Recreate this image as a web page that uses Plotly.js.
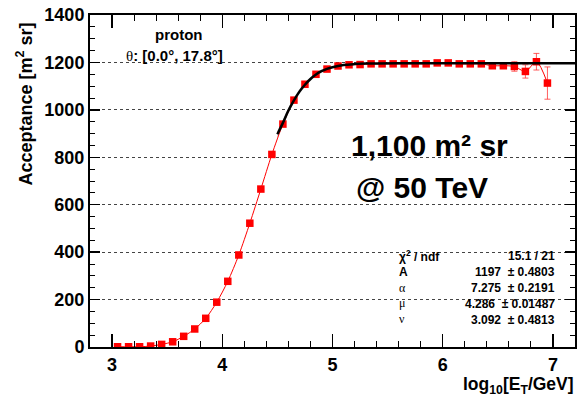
<!DOCTYPE html>
<html>
<head>
<meta charset="utf-8">
<script src="https://cdn.plot.ly/plotly-3.0.1.min.js"></script>
<style>
html,body{margin:0;padding:0;background:#fff;}
#chart{width:578px;height:396px;}
</style>
</head>
<body>
<div id="chart"></div>
<script>
// ---- data ----
const logE = [3.05,3.15,3.25,3.35,3.45,3.55,3.65,3.75,3.85,3.95,
              4.05,4.15,4.25,4.35,4.45,4.55,4.65,4.75,4.85,4.95,
              5.05,5.15,5.25,5.35,5.45,5.55,5.65,5.75,5.85,5.95,
              6.05,6.15,6.25,6.35,6.45,6.55,6.65,6.75,6.85,6.95];
const acceptance = [1,1,1,4,11,22,45,76,121,189,
                    277,388,522,666,812,940,1041,1108,1150,1172,
                    1185,1190,1191,1194,1194,1194,1194,1194,1194,1198,
                    1198,1194,1194,1194,1186,1186,1183,1162,1203,1113];
const acceptanceErr = [0,0,0,1,1,1,2,2,3,3,
                       3,4,4,4,4,4,4,4,4,4,
                       4,4,4,4,4,4,4,4,4,5,
                       5,5,5,5,6,6,20,28,35,68];
const fitX = [4.5,4.55,4.6,4.65,4.7,4.75,4.8,4.85,4.9,4.95,5.0,5.1,5.2,5.3,5.4,5.6,6.0,6.5,7.2];
const fitY = [897,945,997,1040,1077,1106,1130,1149,1163,1173,1180,1189,1193,1195,1196,1197,1197,1197,1197];
const fitBandHalf = [14,13,12,11,10,9,8,7,6,5,4,3,2,2,1,1,1,1,1];
const xTickVals = [3,4,5,6,7];
const yTickVals = [0,200,400,600,800,1000,1200,1400];
const statLabels = ['χ<sup>2</sup> / ndf','A','α','μ','ν'];
const statValues = ['15.1 / 21','1197  ± 0.4803','7.275  ± 0.2191','4.286  ± 0.01487','3.092  ± 0.4813'];

// ---- layout geometry helpers (pixel -> paper) ----
const L = 90, R = 3, T = 15, B = 49, W = 578, H = 396;
const pw = W - L - R, ph = H - T - B;
const px = x => (x - L) / pw;
const py = y => (H - B - y) / ph;

const SANS = 'Liberation Sans, Arial, sans-serif';
const SERIF = 'Liberation Serif, Times New Roman, serif';

const fitUpper = fitY.map((v, i) => v + fitBandHalf[i]);
const fitLower = fitY.map((v, i) => v - fitBandHalf[i]);

const traces = [
  {x: fitX, y: fitUpper, mode: 'lines', line: {width: 0, color: 'rgba(0,0,0,0)', shape: 'spline'}, hoverinfo: 'skip', showlegend: false},
  {x: fitX, y: fitLower, mode: 'lines', line: {width: 0, color: 'rgba(0,0,0,0)', shape: 'spline'}, fill: 'tonexty', fillcolor: 'rgba(150,150,150,0.55)', hoverinfo: 'skip', showlegend: false},
  {x: logE, y: acceptance, mode: 'lines+markers',
   line: {color: '#ff0000', width: 1, shape: 'spline', smoothing: 0.8},
   marker: {symbol: 'square', size: 7.5, color: '#ff0000'},
   error_y: {type: 'data', array: acceptanceErr, visible: true, color: 'rgba(255,40,40,0.75)', thickness: 1, width: 3},
   showlegend: false},
  {x: fitX, y: fitY, mode: 'lines', line: {color: '#000', width: 2.5, shape: 'spline'}, showlegend: false}
];

const ann = [];
// y-axis title
ann.push({xref: 'paper', yref: 'paper', x: px(25), y: py(21), xanchor: 'center', yanchor: 'top',
  text: '<b>Acceptance [m<sup>2</sup> sr]</b>', textangle: -90, showarrow: false,
  font: {family: SANS, size: 18, color: '#000'}});
// x-axis title
ann.push({xref: 'paper', yref: 'paper', x: px(576), y: py(385), xanchor: 'right', yanchor: 'middle',
  text: '<b>log<sub>10</sub>[E<sub>T</sub>/GeV]</b>', showarrow: false,
  font: {family: SANS, size: 17.5, color: '#000'}});
// particle label
ann.push({xref: 'paper', yref: 'paper', x: px(178), y: py(35), xanchor: 'center', yanchor: 'middle',
  text: '<b>proton</b>', showarrow: false, font: {family: SANS, size: 15, color: '#000'}});
ann.push({xref: 'paper', yref: 'paper', x: px(174), y: py(55), xanchor: 'center', yanchor: 'middle',
  text: '<span style="font-family:' + SERIF + '">θ</span><b>: [0.0°, 17.8°]</b>', showarrow: false,
  font: {family: SANS, size: 15, color: '#000'}});
// big text
ann.push({xref: 'paper', yref: 'paper', x: px(349), y: py(145), xanchor: 'left', yanchor: 'middle',
  text: '<b>1,100 m² sr</b>', showarrow: false, font: {family: SANS, size: 30, color: '#000'}});
ann.push({xref: 'paper', yref: 'paper', x: px(354), y: py(187), xanchor: 'left', yanchor: 'middle',
  text: '<b>@ 50 TeV</b>', showarrow: false, font: {family: SANS, size: 30, color: '#000'}});
// stats box
const rowY = [256, 272, 288, 304, 320];
const labelShift = [0, 0, 0, -1, -1];
statLabels.forEach((s, i) => {
  const isGreek = i >= 2;
  ann.push({xref: 'paper', yref: 'paper', x: px(397), y: py(rowY[i] + labelShift[i]), xanchor: 'left', yanchor: 'middle',
    text: isGreek ? s : '<b>' + s + '</b>', showarrow: false,
    font: {family: isGreek ? SERIF : SANS, size: 12, color: '#000'}});
  ann.push({xref: 'paper', yref: 'paper', x: px(557), y: py(rowY[i]), xanchor: 'right', yanchor: 'middle',
    text: '<b>' + statValues[i] + '</b>', showarrow: false,
    font: {family: SANS, size: 12, color: '#000'}});
});

const layout = {
  width: W, height: H,
  margin: {l: L, r: R, t: T, b: B, pad: 0},
  paper_bgcolor: '#fff', plot_bgcolor: '#fff',
  showlegend: false,
  xaxis: {
    range: [2.8, 7.2], tickvals: xTickVals, ticktext: xTickVals.map(String),
    ticks: 'inside', ticklen: 13, tickwidth: 1.3, tickcolor: '#000',
    minor: {dtick: 0.2, tick0: 0, ticks: 'inside', ticklen: 6, tickwidth: 1, tickcolor: '#000', showgrid: false},
    showline: true, linecolor: '#000', linewidth: 2, mirror: 'allticks',
    showgrid: false, zeroline: false, ticklabelstandoff: 0,
    tickfont: {family: SANS, size: 18, color: '#000', weight: 'bold'}
  },
  yaxis: {
    range: [0, 1400], tickvals: yTickVals, ticktext: yTickVals.map(String),
    ticks: 'inside', ticklen: 10, tickwidth: 1.3, tickcolor: '#000',
    minor: {dtick: 50, tick0: 0, ticks: 'inside', ticklen: 5, tickwidth: 1, tickcolor: '#000', showgrid: false},
    showline: true, linecolor: '#000', linewidth: 2, mirror: 'allticks',
    showgrid: true, gridcolor: '#444', griddash: 'dot', gridwidth: 1,
    zeroline: false,
    tickfont: {family: SANS, size: 18, color: '#000', weight: 'bold'}
  },
  annotations: ann
};

Plotly.newPlot('chart', traces, layout, {displayModeBar: false, staticPlot: true});
</script>
</body>
</html>
